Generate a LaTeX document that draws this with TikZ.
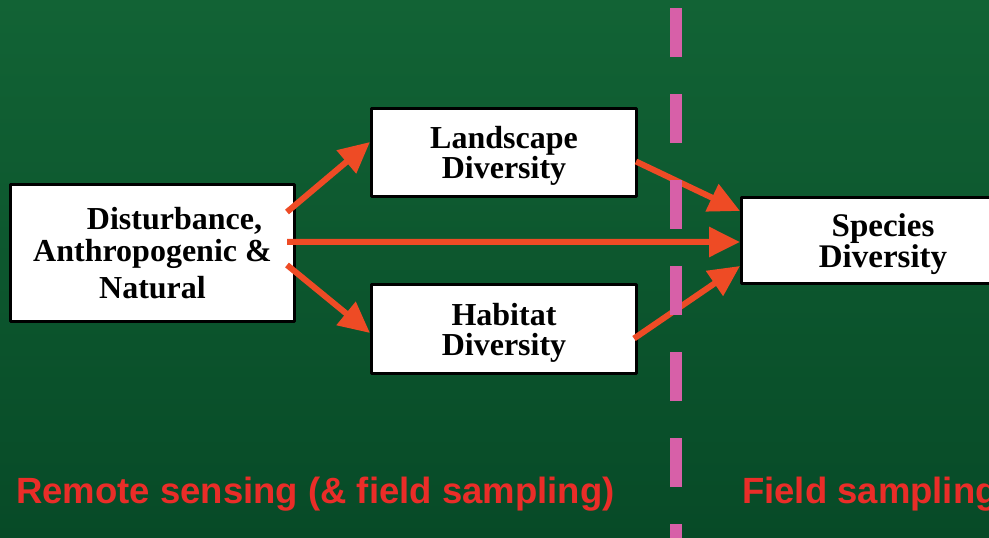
\documentclass[tikz,border=0pt]{standalone}
\usepackage{fontspec}
\setmainfont{Liberation Serif}
\newfontfamily\zonefamily{Liberation Sans}
\usetikzlibrary{arrows.meta}
\definecolor{bgtop}{RGB}{18,99,53}
\definecolor{bgbot}{RGB}{7,74,39}
\definecolor{arrowred}{RGB}{238,75,37}
\definecolor{dashpink}{RGB}{215,96,168}
\definecolor{zonered}{RGB}{234,45,40}
\tikzset{
  box/.style={draw=black,line width=3bp,fill=white,align=center,inner sep=0pt,text depth=0pt,
    font=\bfseries\fontsize{32bp}{30bp}\selectfont},
  flow/.style={draw=arrowred,line width=6bp,-{Triangle[length=31bp,width=29bp]}},
  zone/.style={anchor=base west,text=zonered,inner sep=0pt,
    font=\zonefamily\bfseries\fontsize{36.5bp}{40bp}\selectfont},
}
\begin{document}
\begin{tikzpicture}[line join=bevel]
  \useasboundingbox (0bp,0bp) rectangle (989bp,538bp);
  \shade [top color=bgtop,bottom color=bgbot] (0bp,0bp) rectangle (989bp,538bp);
%%
  % Node: dist
  \node [box,minimum width=284bp,minimum height=137bp,font=\bfseries\fontsize{32bp}{32bp}\selectfont]
    (dist) at (152.5bp,285bp) {\hspace*{44bp}Disturbance,\\Anthropogenic \&\\[5bp]Natural};
  % Node: land
  \node [box,minimum width=265bp,minimum height=88bp] (land) at (504bp,385.5bp) {Landscape\\Diversity};
  % Node: hab
  \node [box,minimum width=265bp,minimum height=89bp] (hab) at (504bp,209bp) {Habitat\\Diversity};
  % Node: spec
  \node [box,minimum width=283bp,minimum height=86bp,font=\bfseries\fontsize{33bp}{29bp}\selectfont]
    (spec) at (883bp,297bp) {Species\\Diversity};
%
  % Edge: dist -> land
  \draw [flow] ([shift={(-9bp,41bp)}]dist.east) -- ([yshift=10.5bp]land.west);
  % Edge: dist -> spec
  \draw [flow] ([shift={(-9bp,11bp)}]dist.east) -- ([yshift=-1bp]spec.west);
  % Edge: dist -> hab
  \draw [flow] ([shift={(-9bp,-12bp)}]dist.east) -- ([yshift=-4bp]hab.west);
  % Edge: land -> spec
  \draw [flow] ([shift={(-2bp,-9bp)}]land.east) -- ([yshift=30bp]spec.west);
  % Edge: hab -> spec
  \draw [flow] ([shift={(-4bp,-9.5bp)}]hab.east) -- ([yshift=-25bp]spec.west);
%
  % Divider
  \coordinate (divtop) at (676bp,529.5bp);
  \coordinate (divbot) at (676bp,-20bp);
  \draw [dashpink,line width=12bp,dash pattern=on 49bp off 37bp] (divtop) -- (divbot);
  % Zones
  \node [zone] (rs) at (16bp,35bp) {Remote sensing (\& field sampling)};
  \node [zone] (fs) at (742bp,35bp) {Field sampling};
%
\end{tikzpicture}
\end{document}
